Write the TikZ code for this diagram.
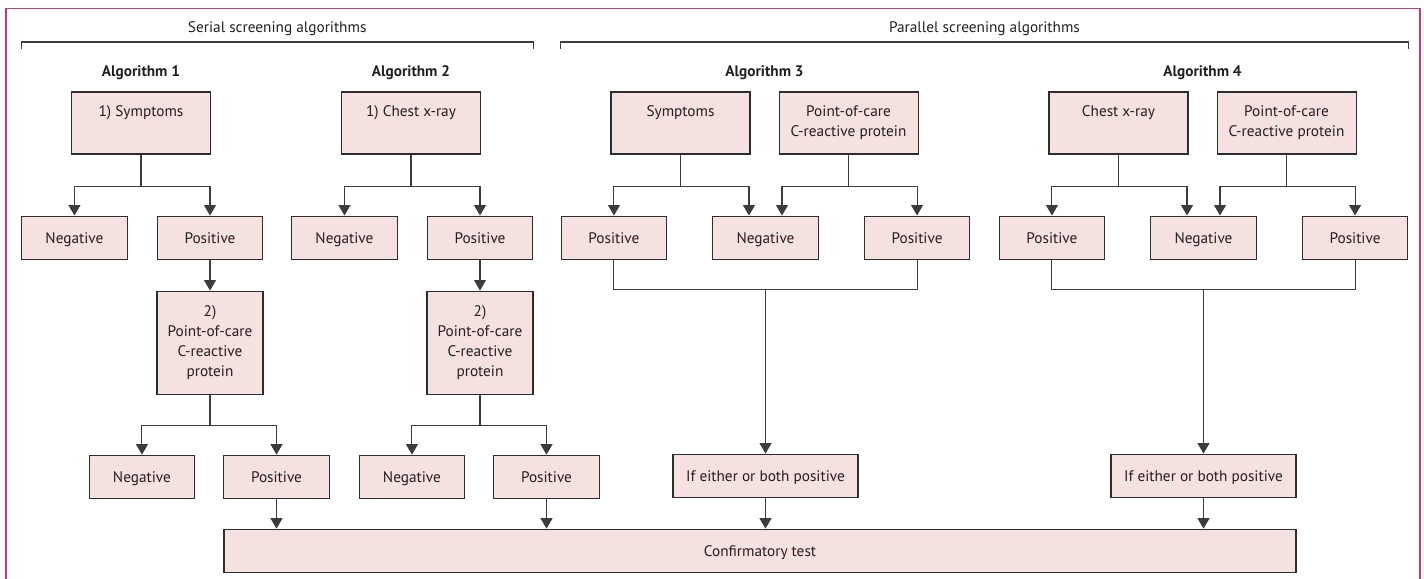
\documentclass[tikz,border=0pt]{standalone}
\usepackage{fontspec}
\setmainfont{PT Sans}
\usetikzlibrary{arrows.meta, positioning, calc}
\definecolor{boxfill}{RGB}{245,225,223}
\definecolor{boxline}{RGB}{45,45,45}
\definecolor{linegray}{RGB}{60,60,60}
\definecolor{frameRed}{RGB}{214,51,107}
\definecolor{txt}{RGB}{35,31,32}

\begin{document}
\begin{tikzpicture}[
    font=\fontsize{8.7}{11.4}\selectfont,
    text=txt,
    box/.style = {
        rectangle, draw=boxline, fill=boxfill,
        line width=0.6pt, align=center, inner sep=0pt
    },
    topbox/.style = {box, minimum width=2.78cm, text height=0.5cm, text depth=0.74cm},
    twoline/.style = {text height=0.9cm, text depth=0.34cm},
    resbox/.style = {box, minimum width=2.11cm, minimum height=0.86cm,
        text height=0.28cm, text depth=0.06cm},
    pocbox/.style = {box, minimum width=2.12cm, minimum height=2.06cm},
    ifbox/.style = {resbox, minimum width=3.7cm},
    confbox/.style = {resbox, minimum width=21.44cm},
    algtitle/.style = {font=\fontsize{8.7}{11.4}\selectfont\bfseries},
    arr/.style = {-{Triangle[length=2.1mm, width=2.4mm]}, line width=0.6pt, draw=linegray},
    conn/.style = {line width=0.6pt, draw=linegray}
]
\useasboundingbox (0,0) rectangle (28.48,-11.58);

% ---- Frame ----
\draw[frameRed, line width=0.7pt] (0.12,-11.58) -- (0.12,-0.17) -- (28.4,-0.17) -- (28.4,-11.58);

% ---- Algorithm 1 ----
\node[topbox] (symA1) at (2.82,-2.46) {1) Symptoms};
\node[resbox, below=1.22cm of symA1, xshift=1.38cm] (posA1) {Positive};
\node[resbox, left=0.58cm of posA1] (negA1) {Negative};
\node[pocbox, below=0.62cm of posA1] (pocA1) {2)\\Point-of-care\\C-reactive\\protein};
\node[resbox, below=1.2cm of pocA1, xshift=1.33cm] (pos2A1) {Positive};
\node[resbox, left=0.56cm of pos2A1] (neg2A1) {Negative};

% ---- Algorithm 2 ----
\node[topbox] (xrayA2) at (8.22,-2.46) {1) Chest x-ray};
\node[resbox, below=1.22cm of xrayA2, xshift=1.38cm] (posA2) {Positive};
\node[resbox, left=0.58cm of posA2] (negA2) {Negative};
\node[pocbox, below=0.62cm of posA2] (pocA2) {2)\\Point-of-care\\C-reactive\\protein};
\node[resbox, below=1.2cm of pocA2, xshift=1.33cm] (pos2A2) {Positive};
\node[resbox, left=0.56cm of pos2A2] (neg2A2) {Negative};

% ---- Algorithm 3 ----
\node[topbox] (symA3) at (13.61,-2.46) {Symptoms};
\node[topbox, twoline, right=0.56cm of symA3] (pocA3) {Point-of-care\\C-reactive protein};
\node[resbox, below=1.22cm of symA3, xshift=1.7cm] (negA3) {Negative};
\node[resbox, left=0.9cm of negA3] (posA3a) {Positive};
\node[resbox, right=0.9cm of negA3] (posA3b) {Positive};
\node[ifbox, below=3.88cm of negA3] (ifA3) {If either or both positive};

% ---- Algorithm 4 ----
\node[topbox] (xrayA4) at (22.37,-2.46) {Chest x-ray};
\node[topbox, twoline, right=0.56cm of xrayA4] (pocA4) {Point-of-care\\C-reactive protein};
\node[resbox, below=1.22cm of xrayA4, xshift=1.7cm] (negA4) {Negative};
\node[resbox, left=0.9cm of negA4] (posA4a) {Positive};
\node[resbox, right=0.9cm of negA4] (posA4b) {Positive};
\node[ifbox, below=3.88cm of negA4] (ifA4) {If either or both positive};

% ---- Confirmatory test ----
\node[confbox, below=0.62cm of ifA3, xshift=-0.11cm] (conf) {Confirmatory test};

% ---- Titles ----
\node[algtitle, above=0.12cm of symA1] (ttlA1) {Algorithm 1};
\node[algtitle, above=0.12cm of xrayA2] (ttlA2) {Algorithm 2};
\node[algtitle, above=0.12cm] (ttlA3) at ($(symA3.north)!0.5!(pocA3.north)$) {Algorithm 3};
\node[algtitle, above=0.12cm] (ttlA4) at ($(xrayA4.north)!0.5!(pocA4.north)$) {Algorithm 4};

% ---- Brackets ----
\coordinate (brk) at (0,-0.98);
\draw[conn] (negA1.west |- brk) -- ++(0,0.14) -| (posA2.east |- brk)
    node[pos=0.25, above=0pt] (serial) {Serial screening algorithms};
\draw[conn] (posA3a.west |- brk) -- ++(0,0.14) -| (posA4b.east |- brk)
    node[pos=0.25, above=0pt] (parallel) {Parallel screening algorithms};

% ---- Arrows ----
% algorithm 1
\draw[arr] (symA1.south) -- ++(0,-0.64) -| (negA1.north);
\draw[arr] (symA1.south) -- ++(0,-0.64) -| (posA1.north);
\draw[arr] (posA1) -- (pocA1);
\draw[arr] (pocA1.south) -- ++(0,-0.62) -| (neg2A1.north);
\draw[arr] (pocA1.south) -- ++(0,-0.62) -| (pos2A1.north);
\draw[arr] (pos2A1) -- (pos2A1 |- conf.north);

% algorithm 2
\draw[arr] (xrayA2.south) -- ++(0,-0.64) -| (negA2.north);
\draw[arr] (xrayA2.south) -- ++(0,-0.64) -| (posA2.north);
\draw[arr] (posA2) -- (pocA2);
\draw[arr] (pocA2.south) -- ++(0,-0.62) -| (neg2A2.north);
\draw[arr] (pocA2.south) -- ++(0,-0.62) -| (pos2A2.north);
\draw[arr] (pos2A2) -- (pos2A2 |- conf.north);

% algorithm 3
\draw[arr] (symA3.south) -- ++(0,-0.64) -| (posA3a.north);
\draw[arr] (symA3.south) -- ++(0,-0.64) -| ([xshift=-0.33cm]negA3.north);
\draw[arr] (pocA3.south) -- ++(0,-0.64) -| ([xshift=0.33cm]negA3.north);
\draw[arr] (pocA3.south) -- ++(0,-0.64) -| (posA3b.north);
\draw[conn] (posA3a.south) -- ++(0,-0.6) -| (posA3b.south);
\draw[arr] ([yshift=-0.6cm]negA3.south) -- (ifA3);
\draw[arr] (ifA3) -- (ifA3 |- conf.north);

% algorithm 4
\draw[arr] (xrayA4.south) -- ++(0,-0.64) -| (posA4a.north);
\draw[arr] (xrayA4.south) -- ++(0,-0.64) -| ([xshift=-0.33cm]negA4.north);
\draw[arr] (pocA4.south) -- ++(0,-0.64) -| ([xshift=0.33cm]negA4.north);
\draw[arr] (pocA4.south) -- ++(0,-0.64) -| (posA4b.north);
\draw[conn] (posA4a.south) -- ++(0,-0.6) -| (posA4b.south);
\draw[arr] ([yshift=-0.6cm]negA4.south) -- (ifA4);
\draw[arr] (ifA4) -- (ifA4 |- conf.north);

\end{tikzpicture}
\end{document}
